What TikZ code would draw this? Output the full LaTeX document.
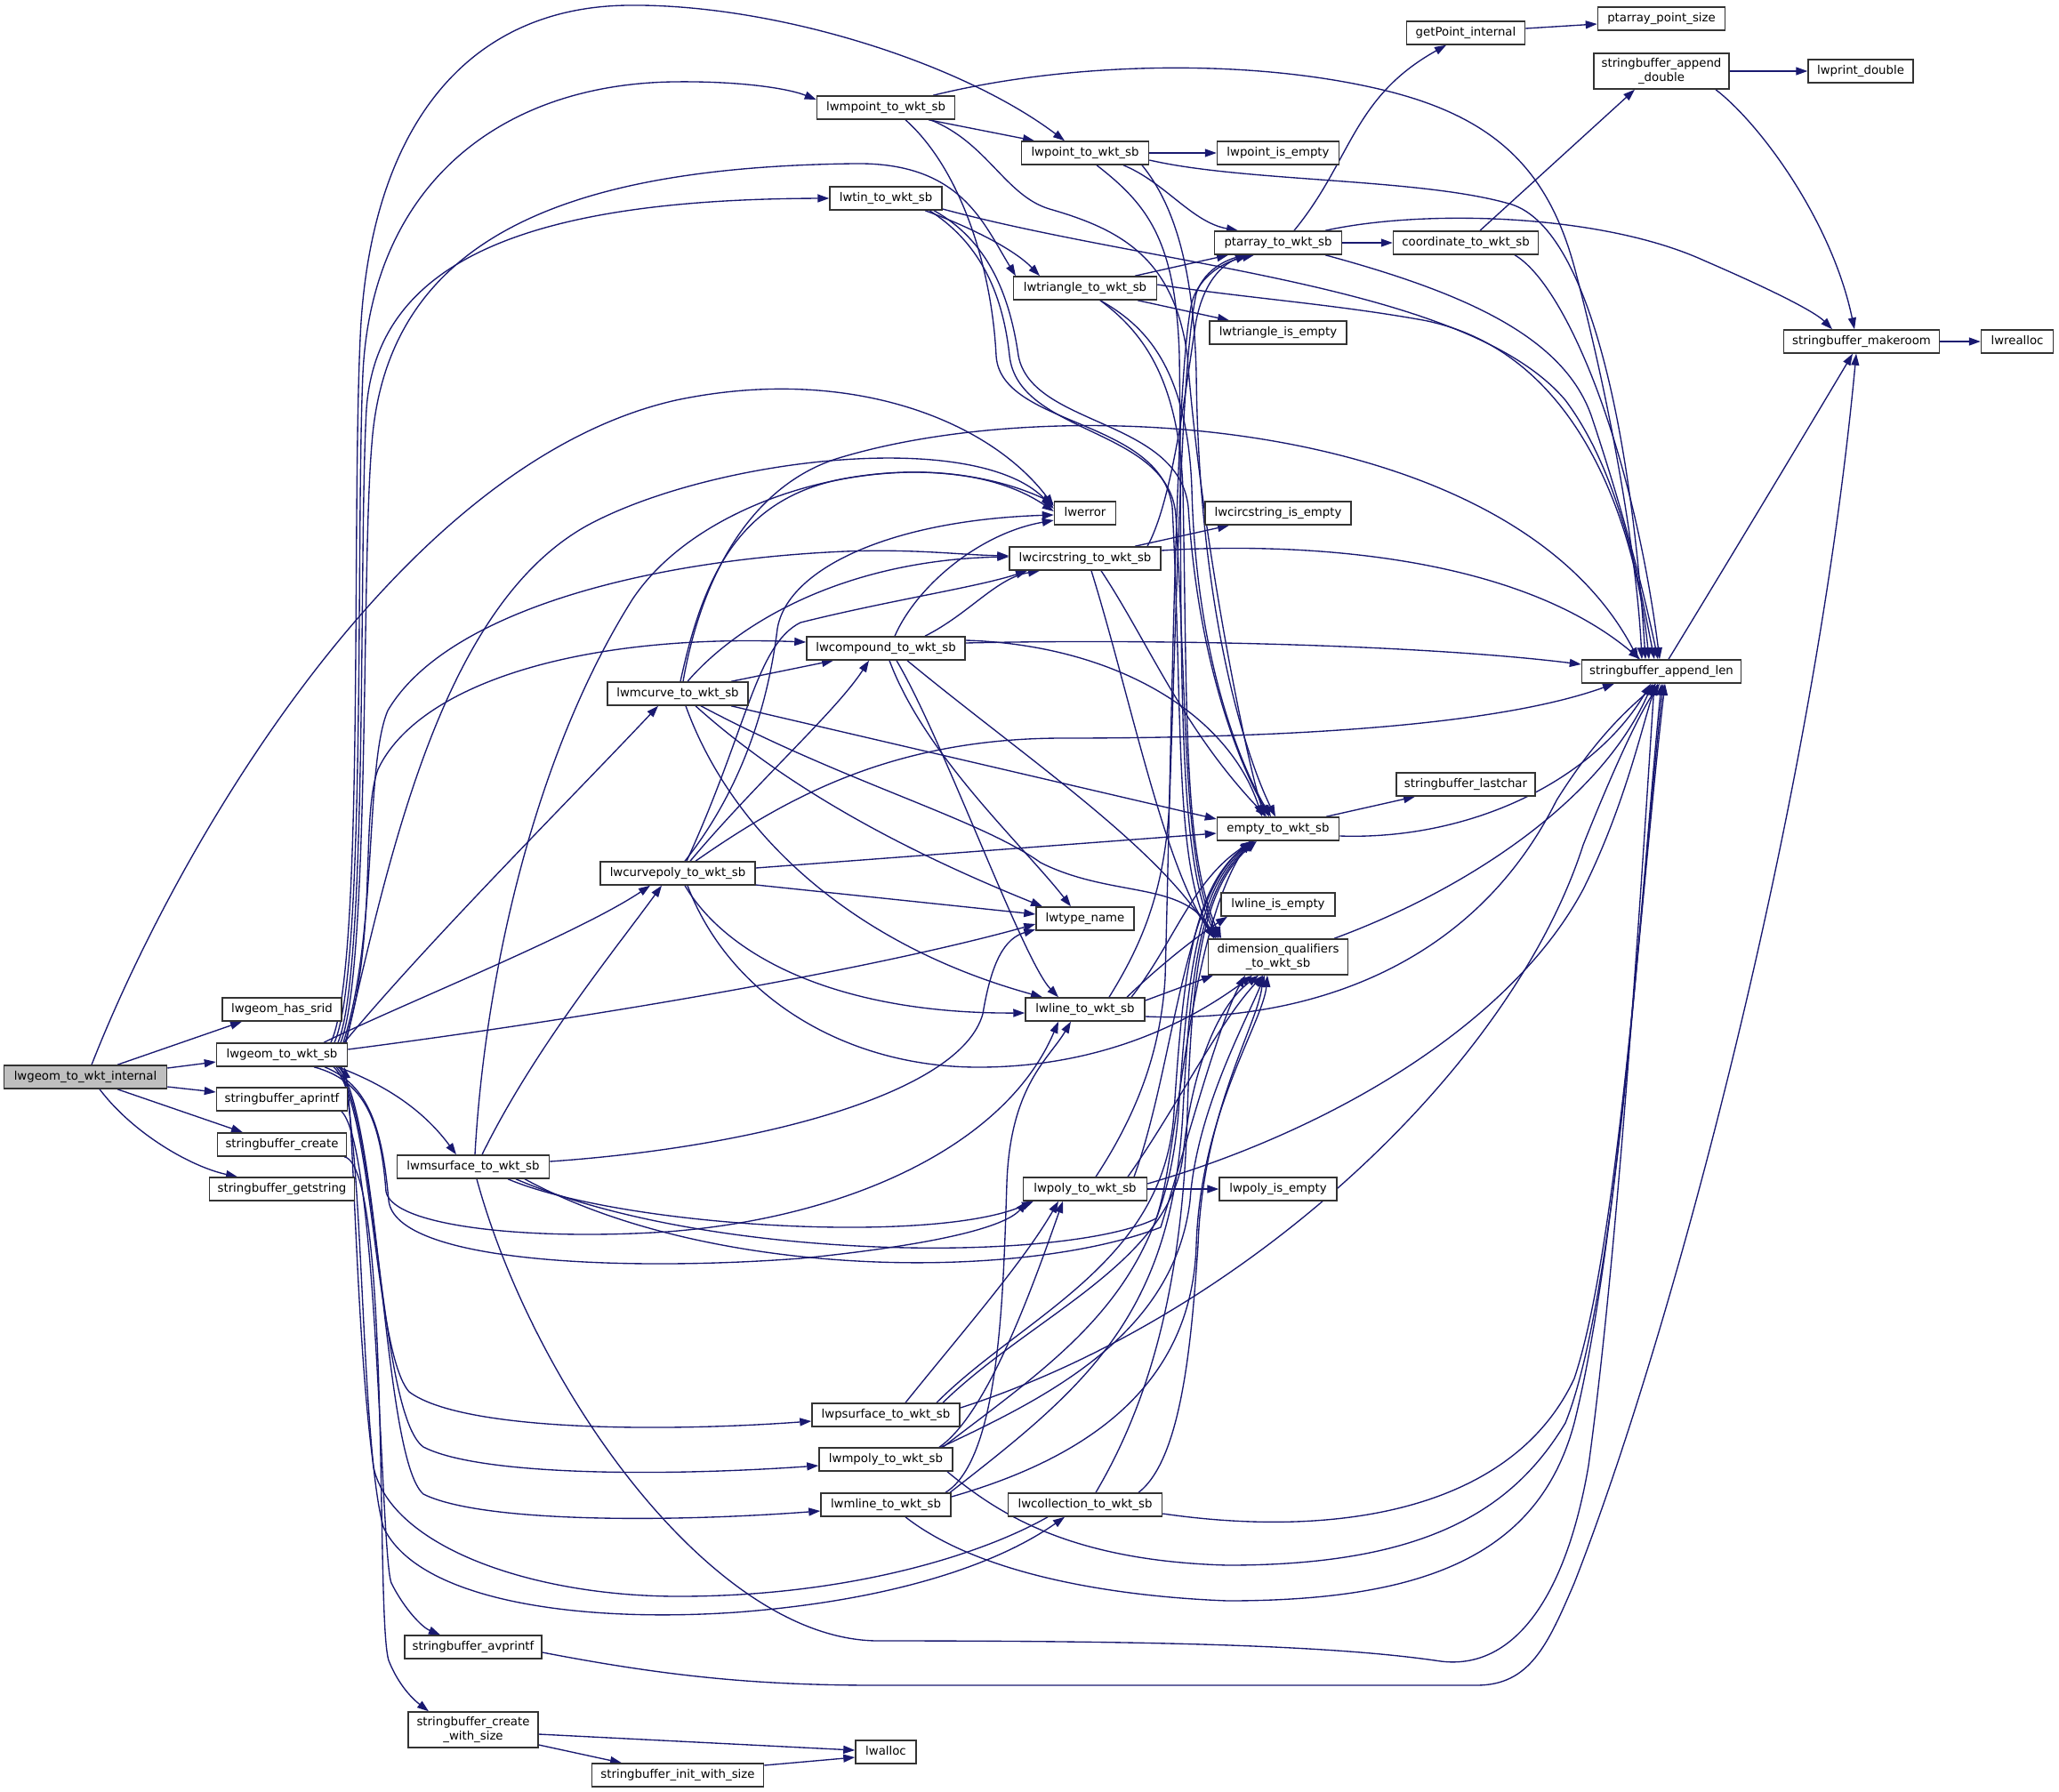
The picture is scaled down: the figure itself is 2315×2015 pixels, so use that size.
\documentclass[tikz,border=0pt]{standalone}
\usepackage{fontspec}
\setmainfont{DejaVu Sans}[Ligatures=NoCommon]
\usetikzlibrary{arrows.meta,backgrounds}
\definecolor{edgec}{HTML}{191970}
\definecolor{rootc}{HTML}{BFBFBF}
\newcommand\dvs{\fontsize{13.3}{15.5}\selectfont}
\tikzset{
  box/.style={draw=black!80, line width=1.5pt, fill=white, inner sep=0pt, minimum height=26pt, font=\dvs, text height=9.8pt, text depth=2.8pt},
  boxtwo/.style={draw=black!80, line width=1.5pt, fill=white, inner sep=0pt, minimum height=40pt, font=\dvs, align=center},
  e/.style={draw=edgec, line width=1.35pt, -{Triangle[length=13pt,width=9pt]}},
}
\begin{document}
\begin{tikzpicture}[x=1pt,y=-1pt]
\useasboundingbox (0,0) rectangle (2315,2015);
% ---------------- nodes
\node[box,minimum width=183pt,fill=rootc] (internal) at (96,1211) {lwgeom\_to\_wkt\_internal};
\node[box,minimum width=134pt] (hassrid) at (317,1135) {lwgeom\_has\_srid};
\node[box,minimum width=147pt] (wkt) at (317,1186) {lwgeom\_to\_wkt\_sb};
\node[box,minimum width=147pt] (aprintf) at (317,1236) {stringbuffer\_aprintf};
\node[box,minimum width=145pt] (sbcreate) at (317,1287) {stringbuffer\_create};
\node[box,minimum width=163pt] (getstring) at (317,1337) {stringbuffer\_getstring};
\node[box,minimum width=171pt] (msurface) at (532,1312) {lwmsurface\_to\_wkt\_sb};
\node[box,minimum width=155pt] (mpoint) at (996,121) {lwmpoint\_to\_wkt\_sb};
\node[box,minimum width=143pt] (point) at (1220,172) {lwpoint\_to\_wkt\_sb};
\node[box,minimum width=137pt] (ptempty) at (1437,172) {lwpoint\_is\_empty};
\node[box,minimum width=126pt] (tin) at (996,223) {lwtin\_to\_wkt\_sb};
\node[box,minimum width=143pt] (ptarray) at (1437,273) {ptarray\_to\_wkt\_sb};
\node[box,minimum width=161pt] (triangle) at (1220,324) {lwtriangle\_to\_wkt\_sb};
\node[box,minimum width=154pt] (triempty) at (1437,374) {lwtriangle\_is\_empty};
\node[box,minimum width=133pt] (getpoint) at (1648,37) {getPoint\_internal};
\node[box,minimum width=143pt] (ptsize) at (1868,21) {ptarray\_point\_size};
\node[boxtwo,minimum width=152pt] (appdouble) at (1868,80) {stringbuffer\_append\\\_double};
\node[box,minimum width=118pt] (lwprint) at (2092,80) {lwprint\_double};
\node[box,minimum width=163pt] (coord) at (1648,273) {coordinate\_to\_wkt\_sb};
\node[box,minimum width=175pt] (makeroom) at (2093,384) {stringbuffer\_makeroom};
\node[box,minimum width=81pt] (lwrealloc) at (2268,384) {lwrealloc};
\node[box,minimum width=69pt] (lwerror) at (1220,577) {lwerror};
\node[box,minimum width=164pt] (circempty) at (1437,577) {lwcircstring\_is\_empty};
\node[box,minimum width=170pt] (circ) at (1220,628) {lwcircstring\_to\_wkt\_sb};
\node[box,minimum width=178pt] (compound) at (996,729) {lwcompound\_to\_wkt\_sb};
\node[box,minimum width=158pt] (mcurve) at (762,780) {lwmcurve\_to\_wkt\_sb};
\node[box,minimum width=179pt] (applen) at (1868,755) {stringbuffer\_append\_len};
\node[box,minimum width=137pt] (empty) at (1437,932) {empty\_to\_wkt\_sb};
\node[box,minimum width=156pt] (lastchar) at (1648,882) {stringbuffer\_lastchar};
\node[box,minimum width=128pt] (lineempty) at (1437,1017) {lwline\_is\_empty};
\node[boxtwo,minimum width=157pt] (dimq) at (1437,1076) {dimension\_qualifiers\\\_to\_wkt\_sb};
\node[box,minimum width=174pt] (curvepoly) at (762,982) {lwcurvepoly\_to\_wkt\_sb};
\node[box,minimum width=110pt] (typename) at (1220,1033) {lwtype\_name};
\node[box,minimum width=134pt] (line) at (1220,1135) {lwline\_to\_wkt\_sb};
\node[box,minimum width=139pt] (poly) at (1220,1337) {lwpoly\_to\_wkt\_sb};
\node[box,minimum width=132pt] (polyempty) at (1437,1337) {lwpoly\_is\_empty};
\node[box,minimum width=166pt] (psurface) at (996,1591) {lwpsurface\_to\_wkt\_sb};
\node[box,minimum width=150pt] (mpoly) at (996,1641) {lwmpoly\_to\_wkt\_sb};
\node[box,minimum width=146pt] (mline) at (996,1692) {lwmline\_to\_wkt\_sb};
\node[box,minimum width=173pt] (collection) at (1220,1692) {lwcollection\_to\_wkt\_sb};
\node[box,minimum width=154pt] (avprintf) at (532,1852) {stringbuffer\_avprintf};
\node[boxtwo,minimum width=146pt] (createws) at (532,1945) {stringbuffer\_create\\\_with\_size};
\node[box,minimum width=68pt] (lwalloc) at (996,1970) {lwalloc};
\node[box,minimum width=193pt] (initws) at (762,1996) {stringbuffer\_init\_with\_size};
% ---------------- edges
\begin{pgfonlayer}{background}
% lwgeom_to_wkt_internal
\draw[e] ([xshift=36pt]internal.north) -- ([xshift=-45pt]hassrid.south);
\draw[e] ([yshift=10pt]internal.east) -- ([yshift=-8pt]wkt.west);
\draw[e] ([yshift=-11pt]internal.east) -- ([yshift=8pt]aprintf.west);
\draw[e] ([xshift=36pt]internal.south) -- ([xshift=-44pt]sbcreate.north);
\draw[e] ([xshift=16pt]internal.south) .. controls (150,1275) and (215,1312) .. ([xshift=-50pt]getstring.north);
\draw[e] ([xshift=7pt]internal.north) .. controls (200,950) and (450,520) .. (760,450) .. controls (950,410) and (1110,470) .. ([yshift=8pt]lwerror.west);
% lwgeom_to_wkt_sb
\draw[e] ([xshift=55pt]wkt.north) .. controls (410,1090) and (395,600) .. (405,380) .. controls (415,150) and (520,8) .. (706,6) .. controls (870,4) and (1080,70) .. ([xshift=-23pt]point.north);
\draw[e] ([xshift=59pt]wkt.north) .. controls (412,1090) and (400,600) .. (408,420) .. controls (418,210) and (560,95) .. (757,92) .. controls (830,91) and (885,99) .. ([yshift=9pt]mpoint.west);
\draw[e] ([xshift=63pt]wkt.north) .. controls (414,1090) and (403,620) .. (412,460) .. controls (424,290) and (600,224) .. (tin.west);
\draw[e] ([xshift=66pt]wkt.north) .. controls (416,1090) and (406,640) .. (418,500) .. controls (435,260) and (650,188) .. (960,184) .. controls (1080,182) and (1105,250) .. ([xshift=-78pt]triangle.north);
\draw[e] ([xshift=69pt]wkt.north) .. controls (425,1050) and (410,860) .. (436,799) .. controls (500,690) and (720,630) .. (950,620) .. controls (1030,617) and (1080,624) .. ([yshift=3pt]circ.west);
\draw[e] ([xshift=71pt]wkt.north) .. controls (425,1050) and (405,920) .. (425,865) .. controls (470,770) and (650,712) .. ([yshift=7pt]compound.west);
\draw[e] ([xshift=72pt]wkt.north) .. controls (440,950) and (500,680) .. (660,591) .. controls (800,515) and (1100,480) .. ([yshift=5pt]lwerror.west);
\draw[e] ([xshift=47pt]wkt.north) .. controls (450,1130) and (650,1050) .. ([xshift=-31pt]curvepoly.south);
\draw[e] ([xshift=70pt]wkt.north) .. controls (480,1060) and (640,900) .. ([xshift=-22pt]mcurve.south);
\draw[e] ([xshift=63pt]wkt.south) .. controls (420,1215) and (470,1240) .. ([xshift=-19pt]msurface.north);
\draw[e] ([yshift=6pt]wkt.east) .. controls (700,1140) and (1000,1085) .. ([yshift=-6pt]typename.west);
\draw[e] ([xshift=36pt]wkt.south) .. controls (410,1215) and (428,1260) .. (434,1340) .. controls (442,1380) and (600,1395) .. (750,1385) .. controls (950,1370) and (1130,1290) .. ([xshift=-30pt]line.south);
\draw[e] ([xshift=48pt]wkt.south) .. controls (415,1220) and (430,1270) .. (437,1350) .. controls (445,1420) and (700,1430) .. (900,1415) .. controls (1050,1400) and (1130,1380) .. ([xshift=-65pt]poly.south);
\draw[e] ([xshift=58pt]wkt.south) .. controls (420,1240) and (420,1520) .. (460,1565) .. controls (520,1610) and (750,1610) .. ([yshift=-7pt]psurface.west);
\draw[e] ([xshift=61pt]wkt.south) .. controls (425,1250) and (425,1590) .. (476,1627) .. controls (540,1660) and (750,1660) .. ([yshift=-7pt]mpoly.west);
\draw[e] ([xshift=64pt]wkt.south) .. controls (428,1260) and (430,1640) .. (476,1680) .. controls (540,1712) and (750,1712) .. ([yshift=-7pt]mline.west);
\draw[e] ([xshift=67pt]wkt.south) .. controls (410,1300) and (405,1620) .. (431,1717) .. controls (470,1800) and (650,1825) .. (827,1813) .. controls (1000,1800) and (1120,1760) .. ([xshift=-23pt]collection.south);
\draw[e] ([xshift=-42pt]collection.south) .. controls (1100,1750) and (950,1795) .. (763,1795) .. controls (600,1795) and (440,1740) .. (420,1650) .. controls (400,1500) and (398,1260) .. ([xshift=70pt]wkt.south);
% stringbuffer chain
\draw[e] ([xshift=67pt]aprintf.south) .. controls (425,1290) and (428,1750) .. (440,1780) .. controls (455,1810) and (475,1830) .. ([xshift=-37pt]avprintf.north);
\draw[e] ([xshift=70pt]sbcreate.south) .. controls (440,1310) and (422,1820) .. (437,1867) .. controls (450,1900) and (470,1915) .. ([xshift=-50pt]createws.north);
\draw[e] ([yshift=-5pt]createws.east) -- ([yshift=2pt]lwalloc.west);
\draw[e] ([yshift=-17pt]createws.east) -- ([xshift=-63pt]initws.north);
\draw[e] ([yshift=11pt]initws.east) -- ([yshift=-6pt]lwalloc.west);
\draw[e] ([yshift=-6pt]avprintf.east) .. controls (750,1885) and (850,1895) .. (986,1895) -- (1660,1895) .. controls (1720,1895) and (1740,1850) .. (1770,1780) .. controls (1880,1500) and (2040,900) .. ([xshift=-6pt]makeroom.south);
% lwmsurface
\draw[e] ([xshift=10pt]msurface.north) .. controls (600,1180) and (690,1070) .. ([xshift=-18pt]curvepoly.south);
\draw[e] ([xshift=2pt]msurface.north) .. controls (545,1100) and (600,850) .. (711,674) .. controls (800,540) and (1060,490) .. ([yshift=2pt]lwerror.west);
\draw[e] ([yshift=6pt]msurface.east) .. controls (850,1290) and (1080,1230) .. (1105,1140) .. controls (1115,1080) and (1130,1055) .. ([yshift=-12pt]typename.west);
\draw[e] ([xshift=39pt]msurface.south) .. controls (700,1380) and (1050,1400) .. ([xshift=-58pt]poly.south);
\draw[e] ([xshift=48pt]msurface.south) .. controls (800,1420) and (1200,1420) .. (1300,1370) .. controls (1325,1300) and (1335,1050) .. ([xshift=-32pt]empty.south);
\draw[e] ([xshift=58pt]msurface.south) .. controls (800,1440) and (1150,1440) .. (1305,1380) .. controls (1330,1300) and (1370,1150) .. ([xshift=-37pt]dimq.south);
\draw[e] ([xshift=4pt]msurface.south) .. controls (600,1560) and (800,1843) .. (986,1845) .. controls (1300,1845) and (1500,1850) .. (1620,1868) .. controls (1700,1878) and (1760,1800) .. (1786,1648) .. controls (1820,1400) and (1845,1000) .. ([xshift=-8pt]applen.south);
% lwmpoint
\draw[e] ([xshift=48pt]mpoint.south) -- ([xshift=-57pt]point.north);
\draw[e] ([xshift=53pt]mpoint.north) .. controls (1200,70) and (1400,65) .. (1550,100) .. controls (1680,130) and (1740,190) .. (1770,300) .. controls (1810,450) and (1840,620) .. ([xshift=-22pt]applen.north);
\draw[e] ([xshift=50pt]mpoint.south) .. controls (1110,160) and (1130,220) .. (1180,235) .. controls (1260,258) and (1320,290) .. (1335,400) .. controls (1350,600) and (1400,850) .. ([xshift=-15pt]empty.north);
\draw[e] ([xshift=22pt]mpoint.south) .. controls (1080,190) and (1115,300) .. (1120,400) .. controls (1125,480) and (1305,470) .. (1318,570) .. controls (1330,800) and (1320,970) .. ([xshift=-72pt]dimq.north);
% lwpoint
\draw[e] (point.east) -- (ptempty.west);
\draw[e] ([xshift=43pt]point.south) .. controls (1310,205) and (1340,250) .. ([xshift=-45pt]ptarray.north);
\draw[e] ([yshift=-8pt]point.east) .. controls (1400,205) and (1600,200) .. (1700,230) .. controls (1790,260) and (1835,500) .. ([xshift=-18pt]applen.north);
\draw[e] ([xshift=64pt]point.south) .. controls (1320,230) and (1342,300) .. (1345,420) .. controls (1348,700) and (1405,860) .. ([xshift=-3pt]empty.north);
\draw[e] ([xshift=13pt]point.south) .. controls (1290,230) and (1322,270) .. (1326,400) .. controls (1330,700) and (1320,960) .. ([xshift=-68pt]dimq.north);
% lwtin
\draw[e] ([xshift=44pt]tin.south) .. controls (1090,255) and (1140,280) .. ([xshift=-51pt]triangle.north);
\draw[e] ([yshift=-12pt]tin.east) .. controls (1300,300) and (1650,320) .. (1760,450) .. controls (1820,530) and (1842,650) .. ([xshift=-8pt]applen.north);
\draw[e] ([xshift=54pt]tin.south) .. controls (1110,270) and (1135,330) .. (1145,400) .. controls (1160,480) and (1325,470) .. (1336,570) .. controls (1348,760) and (1400,870) .. ([xshift=-10pt]empty.north);
\draw[e] ([xshift=49pt]tin.south) .. controls (1105,275) and (1128,335) .. (1135,400) .. controls (1145,490) and (1315,480) .. (1322,580) .. controls (1335,800) and (1330,970) .. ([xshift=-66pt]dimq.north);
% lwtriangle
\draw[e] ([xshift=59pt]triangle.south) -- ([xshift=-55pt]triempty.north);
\draw[e] ([xshift=56pt]triangle.north) -- ([xshift=-56pt]ptarray.south);
\draw[e] ([yshift=4pt]triangle.east) .. controls (1400,335) and (1500,342) .. (1600,360) .. controls (1780,395) and (1840,600) .. ([xshift=-14pt]applen.north);
\draw[e] ([xshift=17pt]triangle.south) .. controls (1285,365) and (1335,410) .. (1340,550) .. controls (1345,750) and (1400,870) .. ([xshift=-8pt]empty.north);
\draw[e] ([xshift=17pt]triangle.south) .. controls (1280,370) and (1325,420) .. (1330,550) .. controls (1335,800) and (1330,960) .. ([xshift=-64pt]dimq.north);
% ptarray
\draw[e] ([xshift=18pt]ptarray.north) .. controls (1520,180) and (1520,110) .. ([xshift=-22pt]getpoint.south);
\draw[e] (ptarray.east) -- (coord.west);
\draw[e] ([xshift=53pt]ptarray.north) .. controls (1600,235) and (1800,240) .. (1916,293) .. controls (1990,325) and (2040,350) .. ([xshift=-33pt]makeroom.north);
\draw[e] ([xshift=53pt]ptarray.south) .. controls (1650,330) and (1760,380) .. (1790,470) .. controls (1820,560) and (1845,650) .. ([xshift=-4pt]applen.north);
% coordinate, getPoint, append_double, append_len, makeroom
\draw[e] ([xshift=16pt]coord.north) -- ([xshift=-30pt]appdouble.south);
\draw[e] ([xshift=55pt]coord.south) .. controls (1760,320) and (1835,500) .. ([xshift=-2pt]applen.north);
\draw[e] ([yshift=5pt]getpoint.east) -- ([yshift=-6pt]ptsize.west);
\draw[e] (appdouble.east) -- (lwprint.west);
\draw[e] ([xshift=61pt]appdouble.south) .. controls (1980,140) and (2060,250) .. ([xshift=-8pt]makeroom.north);
\draw[e] ([xshift=8pt]applen.north) .. controls (1950,620) and (2040,470) .. ([xshift=-10pt]makeroom.south);
\draw[e] (makeroom.east) -- (lwrealloc.west);
% empty, dimension qualifiers
\draw[e] ([xshift=54pt]empty.north) -- ([xshift=-57pt]lastchar.south);
\draw[e] ([yshift=-8pt]empty.east) .. controls (1650,945) and (1790,880) .. ([xshift=-12pt]applen.south);
\draw[e] ([xshift=63pt]dimq.north) .. controls (1650,1000) and (1800,900) .. ([xshift=-10pt]applen.south);
% lwline
\draw[e] ([xshift=47pt]line.north) .. controls (1310,1080) and (1350,1050) .. ([xshift=-57pt]lineempty.south);
\draw[e] ([yshift=10pt]line.east) -- ([xshift=-73pt]dimq.south);
\draw[e] ([xshift=52pt]line.north) .. controls (1320,1060) and (1340,990) .. ([xshift=-29pt]empty.south);
\draw[e] ([xshift=27pt]line.north) .. controls (1285,1060) and (1310,1000) .. (1315,900) .. controls (1325,600) and (1330,400) .. (1345,330) .. controls (1355,300) and (1385,290) .. ([xshift=-31pt]ptarray.south);
\draw[e] ([yshift=-8pt]line.east) .. controls (1450,1150) and (1650,1100) .. (1750,900) .. controls (1800,820) and (1840,790) .. ([xshift=-6pt]applen.south);
% lwpoly
\draw[e] (poly.east) -- (polyempty.west);
\draw[e] ([xshift=48pt]poly.north) .. controls (1320,1250) and (1370,1150) .. ([xshift=-17pt]dimq.south);
\draw[e] ([xshift=55pt]poly.north) .. controls (1320,1200) and (1330,1000) .. ([xshift=-27pt]empty.south);
\draw[e] ([xshift=12pt]poly.north) .. controls (1280,1250) and (1305,1180) .. (1310,1100) .. controls (1318,800) and (1322,420) .. (1340,340) .. controls (1350,305) and (1385,292) .. ([xshift=-27pt]ptarray.south);
\draw[e] ([yshift=6pt]poly.east) .. controls (1500,1270) and (1700,1150) .. (1780,1000) .. controls (1830,900) and (1850,800) .. ([xshift=-4pt]applen.south);
% lwcircstring
\draw[e] ([xshift=56pt]circ.north) -- ([xshift=-55pt]circempty.south);
\draw[e] ([xshift=70pt]circ.north) .. controls (1320,560) and (1335,420) .. (1345,360) .. controls (1355,310) and (1380,295) .. ([xshift=-35pt]ptarray.south);
\draw[e] ([xshift=18pt]circ.south) .. controls (1290,720) and (1330,820) .. ([xshift=-13pt]empty.north);
\draw[e] ([xshift=7pt]circ.south) .. controls (1270,780) and (1310,980) .. ([xshift=-70pt]dimq.north);
\draw[e] ([yshift=9pt]circ.east) .. controls (1450,610) and (1700,620) .. ([xshift=-24pt]applen.north);
% lwcompound
\draw[e] ([xshift=10pt]compound.north) .. controls (1030,660) and (1100,600) .. ([yshift=-8pt]lwerror.west);
\draw[e] ([xshift=44pt]compound.north) .. controls (1090,690) and (1120,650) .. ([xshift=-51pt]circ.south);
\draw[e] ([yshift=6pt]compound.east) .. controls (1300,718) and (1600,725) .. ([yshift=8pt]applen.west);
\draw[e] ([yshift=9pt]compound.east) .. controls (1250,725) and (1380,800) .. ([xshift=-18pt]empty.north);
\draw[e] ([xshift=24pt]compound.south) .. controls (1150,850) and (1300,950) .. ([xshift=-72pt]dimq.north);
\draw[e] ([xshift=12pt]compound.south) .. controls (1060,830) and (1150,1080) .. ([xshift=-30pt]line.north);
\draw[e] ([xshift=4pt]compound.south) .. controls (1040,850) and (1150,950) .. ([xshift=-16pt]typename.north);
% lwcurvepoly
\draw[e] ([xshift=8pt]curvepoly.north) .. controls (840,880) and (865,780) .. (874,707) .. controls (885,640) and (1000,585) .. ([yshift=-2pt]lwerror.west);
\draw[e] ([xshift=10pt]curvepoly.north) .. controls (840,820) and (850,725) .. (900,700) .. controls (1000,675) and (1100,660) .. ([xshift=-65pt]circ.south);
\draw[e] ([xshift=14pt]curvepoly.north) .. controls (850,880) and (940,800) .. ([xshift=-19pt]compound.south);
\draw[e] ([yshift=6pt]curvepoly.east) -- ([yshift=-5pt]empty.west);
\draw[e] ([yshift=-13pt]curvepoly.east) -- ([yshift=5pt]typename.west);
\draw[e] ([xshift=8pt]curvepoly.south) .. controls (820,1080) and (950,1140) .. ([yshift=-4pt]line.west);
\draw[e] ([xshift=11pt]curvepoly.south) .. controls (820,1120) and (950,1200) .. (1100,1200) .. controls (1250,1200) and (1350,1140) .. ([xshift=-29pt]dimq.south);
\draw[e] ([xshift=20pt]curvepoly.north) .. controls (880,900) and (1000,830) .. (1195,830) .. controls (1500,830) and (1700,810) .. ([xshift=-53pt]applen.south);
% lwmcurve
\draw[e] ([xshift=3pt]mcurve.north) .. controls (790,650) and (830,560) .. (950,538) .. controls (1050,520) and (1130,540) .. ([yshift=11pt]lwerror.west);
\draw[e] ([xshift=11pt]mcurve.north) .. controls (830,700) and (950,630) .. ([yshift=2pt]circ.west);
\draw[e] ([xshift=60pt]mcurve.north) -- ([xshift=-59pt]compound.south);
\draw[e] ([xshift=60pt]mcurve.south) -- ([yshift=11pt]empty.west);
\draw[e] ([xshift=20pt]mcurve.south) .. controls (900,900) and (1050,970) .. ([xshift=-48pt]typename.north);
\draw[e] ([xshift=9pt]mcurve.south) .. controls (820,930) and (950,1060) .. ([xshift=-48pt]line.north);
\draw[e] ([xshift=26pt]mcurve.south) .. controls (950,880) and (1100,920) .. (1170,970) .. controls (1250,1010) and (1330,990) .. ([xshift=-70pt]dimq.north);
\draw[e] ([xshift=6pt]mcurve.north) .. controls (790,640) and (850,540) .. (950,513) .. controls (1200,440) and (1700,470) .. ([xshift=-26pt]applen.north);
% lwpsurface
\draw[e] ([xshift=22pt]psurface.north) .. controls (1080,1500) and (1150,1420) .. ([xshift=-30pt]poly.south);
\draw[e] ([xshift=57pt]psurface.north) .. controls (1150,1480) and (1310,1420) .. (1320,1250) .. controls (1330,1100) and (1340,1000) .. ([xshift=-30pt]empty.south);
\draw[e] ([xshift=64pt]psurface.north) .. controls (1160,1480) and (1315,1420) .. (1330,1300) .. controls (1340,1200) and (1370,1130) .. ([xshift=-22pt]dimq.south);
\draw[e] ([yshift=8pt]psurface.east) .. controls (1400,1480) and (1700,1200) .. (1780,950) .. controls (1820,850) and (1845,800) .. ([xshift=-2pt]applen.south);
% lwmpoly
\draw[e] ([xshift=60pt]mpoly.north) .. controls (1110,1590) and (1160,1450) .. ([xshift=-25pt]poly.south);
\draw[e] ([xshift=64pt]mpoly.north) .. controls (1200,1520) and (1310,1450) .. (1325,1250) .. controls (1335,1100) and (1345,1000) .. ([xshift=-28pt]empty.south);
\draw[e] ([xshift=62pt]mpoly.north) .. controls (1180,1570) and (1320,1500) .. (1338,1350) .. controls (1345,1250) and (1400,1150) .. ([xshift=-15pt]dimq.south);
\draw[e] ([xshift=69pt]mpoly.south) .. controls (1120,1700) and (1200,1755) .. (1380,1760) .. controls (1600,1760) and (1700,1700) .. (1760,1600) .. controls (1820,1450) and (1845,1000) .. (applen.south);
% lwmline
\draw[e] ([xshift=67pt]mline.north) .. controls (1125,1640) and (1128,1450) .. (1132,1330) .. controls (1136,1220) and (1180,1190) .. ([xshift=-16pt]line.south);
\draw[e] ([xshift=72pt]mline.north) .. controls (1220,1560) and (1318,1480) .. (1330,1250) .. controls (1338,1100) and (1348,1000) .. ([xshift=-26pt]empty.south);
\draw[e] ([yshift=9pt]mline.east) .. controls (1220,1640) and (1340,1560) .. (1345,1400) .. controls (1350,1250) and (1420,1150) .. ([xshift=-12pt]dimq.south);
\draw[e] ([xshift=22pt]mline.south) .. controls (1100,1770) and (1250,1795) .. (1380,1800) .. controls (1600,1800) and (1730,1750) .. (1770,1600) .. controls (1820,1400) and (1845,1000) .. ([xshift=2pt]applen.south);
% lwcollection
\draw[e] ([xshift=12pt]collection.north) .. controls (1290,1580) and (1330,1450) .. (1335,1250) .. controls (1340,1100) and (1350,1000) .. ([xshift=-24pt]empty.south);
\draw[e] ([xshift=60pt]collection.north) .. controls (1330,1640) and (1340,1500) .. (1347,1400) .. controls (1352,1250) and (1415,1150) .. ([xshift=-17pt]dimq.south);
\draw[e] ([yshift=-10pt]collection.east) .. controls (1500,1730) and (1700,1700) .. (1770,1550) .. controls (1820,1400) and (1845,1000) .. ([xshift=4pt]applen.south);
\end{pgfonlayer}
\end{tikzpicture}
\end{document}
